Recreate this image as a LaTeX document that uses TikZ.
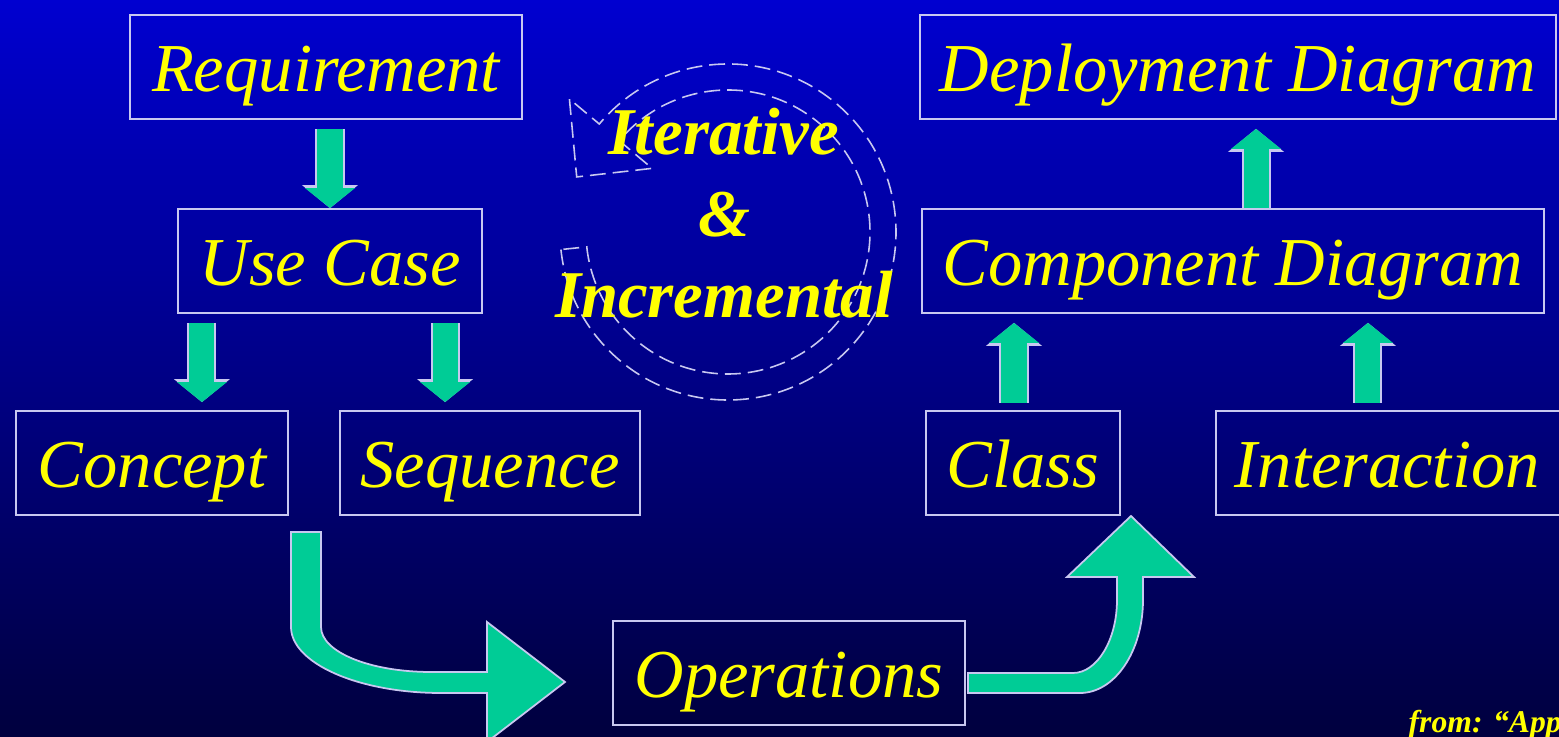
\documentclass[tikz,border=0pt]{standalone}
\usepackage{fontspec}
\setmainfont{Liberation Serif}
\usetikzlibrary{calc,arrows.meta}

\definecolor{bgtop}{RGB}{0,0,208}
\definecolor{bgmid}{RGB}{0,0,168}
\definecolor{bgbot}{RGB}{0,0,62}
\definecolor{arrowgreen}{RGB}{0,204,150}
\definecolor{edge}{RGB}{200,200,240}
\definecolor{label}{RGB}{255,255,0}

\tikzset{
  box/.style={draw=edge, line width=0.5pt, text=label, inner sep=0pt,
    minimum height=1.04cm, text height=13.8pt, text depth=0pt,
    font=\fontsize{19.5}{23}\selectfont\itshape},
  blockarrow/.style={draw=arrowgreen, line width=0.25cm,
    -{Triangle[width=0.5cm,length=0.2cm,line width=0pt]},
    preaction={draw=edge, line width=0.29cm,
      -{Triangle[width=0.56cm,length=0.23cm,line width=0pt]}}},
  bigarrow/.style={fill=arrowgreen, draw=edge, line width=0.5pt, line join=miter},
  loopline/.style={draw=edge, line width=0.45pt, dash pattern=on 4.5pt off 2pt},
  motto/.style={text=label, anchor=base,
    font=\fontsize{19}{23}\selectfont\bfseries\itshape},
}

\begin{document}
\begin{tikzpicture}[x=0.01cm,y=-0.01cm]

 \useasboundingbox (0,0) rectangle (1559,737);
 \shade[top color=bgtop, middle color=bgmid, bottom color=bgbot] (0,0) rectangle (1559,737);

 % left column
 \node[box, minimum width=3.92cm] (req) at (326,67) {Requirement};
 \node[box, minimum width=3.04cm] (uc) at (330,261) {Use Case};
 \node[box, minimum width=2.72cm] (concept) at (152,463) {Concept};
 \node[box, minimum width=3.00cm] (seq) at (490,463) {Sequence};

 % right column
 \node[box, minimum width=6.36cm] (deploy) at (1238,67) {Deployment Diagram};
 \node[box, minimum width=6.22cm] (comp) at (1233,261) {Component Diagram};
 \node[box, minimum width=1.94cm] (class) at (1023,463) {Class};
 \node[box, text width=3.2cm, align=left, inner xsep=0.19cm] (inter) at (1395,463) {Interaction};

 \node[box, minimum width=3.52cm] (ops) at (789,673) {Operations};

 % small arrows
 \coordinate (ucl) at ([xshift=-1.28cm]uc.south);
 \coordinate (ucr) at ([xshift=1.15cm]uc.south);
 \coordinate (clt) at ([xshift=-0.09cm]class.north);
 \coordinate (itt) at ([xshift=-0.27cm]inter.north);
 \coordinate (cpt) at ([xshift=0.23cm]comp.north);

 \draw[blockarrow, shorten <=0.09cm] (uc.north |- req.south) -- (uc.north);
 \draw[blockarrow, shorten <=0.09cm, shorten >=0.08cm] (ucl) -- (ucl |- concept.north);
 \draw[blockarrow, shorten <=0.09cm, shorten >=0.08cm] (ucr) -- (ucr |- seq.north);
 \draw[blockarrow, shorten <=0.07cm, shorten >=0.09cm] (clt) -- (clt |- comp.south);
 \draw[blockarrow, shorten <=0.07cm, shorten >=0.09cm] (itt) -- (itt |- comp.south);
 \draw[blockarrow, shorten >=0.09cm] (cpt) -- (cpt |- deploy.south);

 % bent arrows in and out of Operations
 \filldraw[bigarrow] (291,532) -- (321,532) -- (321,627)
   .. controls (321,652) and (370,672) .. (431,672) -- (487,672) -- (487,622)
   -- (565,682) -- (487,742) -- (487,693) -- (441,693)
   .. controls (358,693) and (291,663) .. (291,627) -- cycle;
 \filldraw[bigarrow] (968,673) -- (1073,673)
   .. controls (1097,673) and (1117,640) .. (1117,600) -- (1117,577) -- (1067,577)
   -- (1131,516) -- (1194,577) -- (1143,577) -- (1143,600)
   .. controls (1143,651) and (1115,693) .. (1080,693) -- (968,693) -- cycle;

 % dashed loop
 \coordinate (cyc) at (728,232);
 \draw[loopline] (cyc) ++(174:168) arc[start angle=174, end angle=-140, radius=168]
   -- ($(cyc)+(-140:207)$) -- ($(cyc)+(-160:161)$) -- ($(cyc)+(-140:99)$)
   -- ($(cyc)+(-140:142)$) arc[start angle=-140, end angle=174, radius=142] -- cycle;

 \node[motto] (iter) at (724,155) {Iterative};
 \node[motto] (amp) at (724,237) {\&};
 \node[motto] (incr) at (724,318) {Incremental};

 \node[text=label, anchor=base west, inner sep=0pt, font=\fontsize{9}{11}\selectfont\bfseries\itshape] (src) at (1408,733) {from: “App};

\end{tikzpicture}
\end{document}
